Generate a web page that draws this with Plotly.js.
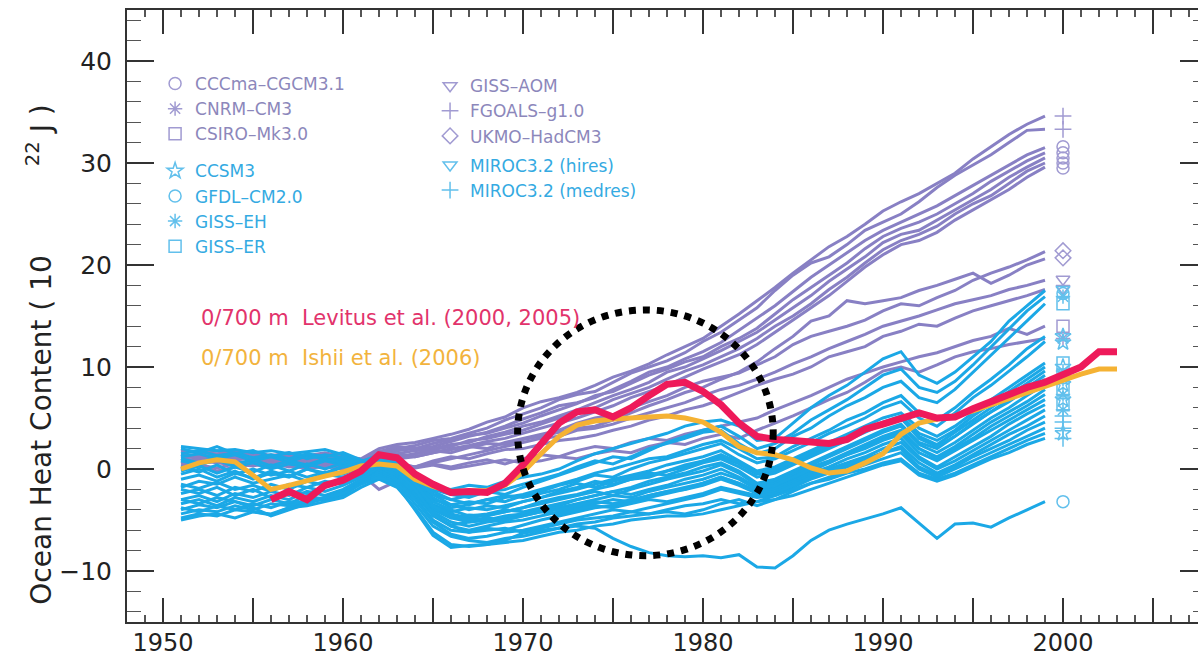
<!DOCTYPE html>
<html><head><meta charset="utf-8">
<script src="https://cdn.plot.ly/plotly-3.0.1.min.js"></script>
<style>html,body{margin:0;padding:0;overflow:hidden;background:#fff}#chart{width:1216px;height:658px}</style>
</head><body><div id="chart"></div>
<script>
// ---------- data ----------
const modelYears = [1951,1952,1953,1954,1955,1956,1957,1958,1959,1960,1961,1962,1963,1964,1965,1966,1967,1968,1969,1970,1971,1972,1973,1974,1975,1976,1977,1978,1979,1980,1981,1982,1983,1984,1985,1986,1987,1988,1989,1990,1991,1992,1993,1994,1995,1996,1997,1998,1999];

// purple group (CCCma, CNRM, CSIRO, GISS-AOM, FGOALS, UKMO)
const fgoals1 = [1.8,1.6,1.5,1.7,1.4,1.2,1.5,1.3,1.6,1.2, 1.0,2.0,2.4,2.6,3.0,3.4,3.9,4.6,5.1,6.0, 6.6,7.0,7.5,8.2,9.0,9.6,10.3,11.2,12.0,12.8, 14.0,15.2,16.5,17.8,19.2,20.5,21.8,22.8,24.0,25.3, 26.2,27.0,28.0,29.0,30.4,31.6,32.8,33.8,34.6];
const fgoals2 = [1.2,1.4,1.1,1.3,1.0,1.4,1.1,0.9,1.2,1.0, 0.6,1.6,2.0,2.3,2.8,3.0,3.5,4.0,4.8,5.4, 6.0,6.8,7.3,7.6,8.5,9.4,10.0,10.6,11.4,12.5, 13.4,14.6,15.8,17.5,19.0,20.2,20.8,22.0,23.4,24.2, 25.0,26.2,27.6,28.8,29.8,30.8,32.0,33.2,33.3];
const cccma1 = [0.8,1.0,0.7,0.9,1.1,0.6,0.8,0.5,0.9,0.7, 0.4,1.3,1.8,2.0,2.2,2.7,3.2,3.6,4.2,4.9, 5.5,6.2,6.5,7.0,7.8,8.6,9.5,10.0,10.8,11.5, 12.4,13.6,14.8,16.0,17.4,18.8,20.0,21.2,22.4,23.4, 24.2,25.0,25.8,26.8,27.8,28.8,29.8,30.8,31.5];
const cccma2 = [1.5,1.2,1.4,1.0,1.2,0.9,1.3,1.0,0.8,1.1, 0.8,1.7,2.2,2.0,2.5,2.9,3.3,3.5,4.0,4.5, 5.2,5.8,6.4,7.2,7.6,8.4,9.2,9.8,10.5,11.0, 12.0,12.8,13.8,15.2,16.6,17.8,19.0,20.2,21.6,22.8, 23.6,24.2,25.0,26.0,27.0,28.2,29.2,30.2,31.0];
const cccma3 = [0.6,0.9,1.2,0.8,0.5,0.9,0.6,0.8,0.4,0.7, 0.5,1.1,1.5,1.8,2.0,2.4,2.6,3.2,3.6,4.2, 4.6,5.2,5.8,6.5,7.2,7.8,8.5,9.5,10.0,10.8, 11.6,12.5,13.4,14.6,15.8,17.0,18.4,19.6,20.8,22.2, 23.0,23.4,24.4,25.4,26.4,27.4,28.6,29.6,30.5];
const cccma4 = [1.0,0.7,0.9,1.3,0.8,1.0,0.7,1.1,0.9,0.6, 0.2,0.9,1.2,1.5,1.9,2.2,2.8,3.0,3.4,3.8, 4.4,5.0,5.5,6.0,6.8,7.4,8.0,8.8,9.6,10.2, 11.0,11.8,12.8,14.0,15.0,16.2,17.6,18.8,20.2,21.5, 22.4,23.0,23.8,25.0,26.0,26.8,28.0,29.2,30.0];
const cccma5 = [0.3,0.5,0.8,0.5,0.7,0.4,0.6,0.3,0.5,0.4, 0.0,0.7,1.0,1.2,1.6,2.0,2.3,2.7,3.0,3.5, 4.0,4.5,5.0,5.6,6.2,7.0,7.6,8.2,9.0,9.8, 10.5,11.2,12.2,13.4,14.6,15.8,17.0,18.4,19.8,21.0, 22.0,22.4,23.2,24.4,25.4,26.4,27.4,28.6,29.6];
const ukmo1 = [1.9,1.6,1.8,1.5,1.7,1.3,1.6,1.2,1.5,1.3, 0.9,1.8,1.5,1.2,1.6,1.9,2.2,2.0,2.6,3.0, 3.4,3.8,4.5,5.0,5.3,6.0,6.6,7.2,8.0,8.6, 9.0,9.4,10.2,11.0,12.2,13.0,13.5,14.0,14.6,15.5, 16.2,16.0,16.8,17.5,18.5,19.2,19.8,20.5,21.3];
const ukmo2 = [1.0,1.3,0.9,1.2,0.8,1.1,0.9,1.2,0.7,1.0, 0.6,1.4,1.0,1.5,1.8,1.6,2.1,2.5,2.4,2.9, 3.2,3.6,4.0,4.2,4.8,5.5,6.2,6.8,7.5,8.0, 8.8,9.5,10.5,11.8,13.0,14.5,15.0,16.5,16.2,16.5, 16.8,17.5,18.0,18.6,19.2,18.2,19.0,20.0,20.6];
const gissAom1 = [0.5,0.8,0.6,0.4,0.7,0.5,0.8,0.4,0.6,0.3, -0.5,-2.0,-1.2,0.2,0.6,1.0,1.4,1.8,2.2,2.6, 3.0,3.2,3.8,4.0,4.4,5.0,5.5,6.0,6.5,7.2, 7.8,8.2,8.8,9.5,10.3,11.0,11.8,12.5,13.2,14.0, 14.5,15.0,15.6,16.2,16.6,17.0,17.6,18.0,18.5];
const gissAom2 = [0.2,0.4,0.1,0.5,0.3,0.6,0.2,0.4,0.1,0.3, 0.0,0.8,0.5,0.2,0.8,1.2,1.0,1.5,1.9,2.0, 2.4,2.8,3.0,3.3,3.8,4.2,4.8,5.2,5.8,6.2, 6.8,7.5,8.2,8.8,9.3,10.0,11.0,11.5,12.0,13.0, 13.5,14.2,14.0,14.8,15.5,16.0,16.5,17.0,17.6];
const csiro1 = [1.4,1.1,1.3,0.9,1.2,0.8,1.0,0.7,0.9,0.8, 0.3,1.0,0.6,0.2,0.5,0.2,0.6,0.9,0.5,1.0, 1.4,1.2,1.8,2.2,2.0,2.6,3.0,2.8,3.4,3.8, 4.2,4.6,5.0,5.8,6.5,7.2,8.0,8.8,9.4,10.0, 10.5,11.0,11.4,12.0,12.6,13.0,13.8,13.2,14.0];
const cnrm1 = [0.0,0.3,-0.2,0.2,0.5,0.1,0.4,0.0,0.3,0.0, -0.4,0.2,-0.3,0.1,0.4,0.0,0.3,0.6,0.9,0.6, 0.8,1.2,1.0,1.5,1.8,1.6,2.2,2.6,2.4,3.0, 3.4,3.0,3.8,4.5,5.2,6.0,6.8,7.5,8.5,9.6, 10.0,9.5,10.2,11.0,11.5,11.8,12.2,12.5,12.8];

// cyan group (CCSM3, GFDL-CM2.0, GISS-EH, GISS-ER, MIROC3.2)
const mirocHi1 = [2.2,2.0,1.8,1.9,1.6,1.8,1.5,1.7,1.9,1.4, 0.6,0.8,0.2,-1.0,-1.8,-2.0,-1.6,-1.8,-1.2,-0.8, -0.5,0.0,0.8,1.5,2.0,2.5,3.0,3.5,4.2,4.6, 4.8,4.2,2.8,3.0,4.5,6.0,7.2,8.2,9.5,10.8, 11.5,9.2,8.4,9.5,11.0,12.5,14.5,16.0,17.5];
const gissEh1 = [1.2,1.5,1.0,1.4,0.8,1.2,0.7,1.3,1.0,0.9, 0.3,0.6,0.0,-1.5,-2.5,-3.0,-2.6,-2.2,-2.5,-1.8, -1.2,-0.6,0.0,0.6,1.2,1.0,1.8,2.6,3.2,3.8, 4.2,3.2,2.0,2.5,3.5,4.8,5.8,6.8,8.0,9.2, 9.8,8.0,7.5,8.6,10.2,12.0,13.8,15.5,16.9];
const gissEr1 = [-0.5,0.0,-0.8,-0.2,-1.0,-0.4,-0.8,0.0,-0.5,0.2, 0.5,1.0,0.4,-0.8,-2.0,-2.5,-2.8,-2.2,-2.0,-1.5, -1.0,-0.5,0.2,0.8,0.5,1.2,2.0,2.5,3.0,3.6, 3.8,2.5,1.5,2.0,3.2,4.0,5.2,6.2,7.0,8.0, 8.6,7.0,6.5,7.8,9.5,11.2,12.8,14.5,16.2];
const ccsm1 = [0.8,0.4,0.9,0.2,0.6,0.0,0.5,0.2,0.8,0.4, 0.0,0.8,0.2,-1.2,-3.0,-3.5,-3.2,-3.4,-2.8,-2.5, -2.0,-1.5,-1.0,-0.4,0.0,0.5,1.0,1.2,1.8,2.4, 2.8,2.0,1.0,1.2,2.2,3.0,3.8,4.8,5.5,6.5, 7.2,5.5,4.8,6.0,7.5,8.8,10.2,11.8,13.0];
const ccsm2 = [-1.8,-1.2,-1.5,-0.8,-1.4,-1.0,-0.6,-1.2,-0.5,-0.8, -0.2,0.5,-0.2,-1.5,-2.8,-3.8,-3.5,-3.0,-3.2,-2.6, -2.2,-1.6,-1.2,-0.6,-0.8,0.0,0.6,1.0,1.5,2.0, 2.5,1.4,0.6,1.0,1.8,2.6,3.5,4.2,5.0,6.0, 6.6,5.0,4.2,5.5,7.0,8.2,9.6,11.0,12.5];
const gissEr2 = [1.5,1.8,1.3,1.6,1.1,1.4,1.0,1.5,1.2,1.6, 0.9,0.4,-0.3,-2.0,-3.5,-4.2,-3.8,-4.0,-3.6,-3.2, -2.8,-2.4,-2.0,-1.5,-1.0,-0.6,-0.2,0.4,0.8,1.2, 1.8,0.8,-0.2,0.2,1.0,1.8,2.6,3.4,4.2,5.0, 5.5,4.0,3.2,4.2,5.5,6.8,8.0,9.2,10.4];
const ccsm3 = [-3.0,-2.6,-3.2,-2.4,-2.8,-2.2,-2.6,-1.8,-2.2,-1.6, -0.8,0.2,-0.5,-2.2,-4.0,-4.8,-4.5,-4.6,-4.2,-3.8, -3.2,-2.8,-2.5,-2.0,-1.6,-1.0,-0.8,-0.2,0.2,0.8, 1.2,0.5,-0.5,-0.2,0.6,1.4,2.2,3.0,3.8,4.6, 5.2,3.5,2.8,3.8,5.2,6.4,7.6,8.8,10.0];
const gissEh2 = [0.2,-0.3,0.4,-0.5,0.0,-0.6,-0.2,-0.8,-0.3,-0.5, 0.2,1.2,0.6,-0.6,-2.2,-3.0,-3.4,-3.0,-2.6,-2.8, -2.4,-2.0,-1.4,-1.8,-1.2,-0.8,-0.4,-0.6,0.0,0.6, 1.0,0.2,-0.8,-0.4,0.4,1.2,2.0,2.8,3.6,4.4, 5.0,3.2,2.4,3.6,4.8,6.0,7.2,8.4,9.6];
const gissEr3 = [-4.0,-3.5,-3.8,-3.2,-3.6,-3.0,-3.4,-2.6,-3.0,-2.4, -1.2,0.0,-0.8,-2.5,-4.5,-5.5,-5.2,-5.0,-4.8,-4.4, -4.0,-3.6,-3.0,-2.6,-2.2,-1.8,-1.2,-0.8,-0.4,0.2, 0.6,-0.2,-1.4,-1.0,-0.2,0.6,1.4,2.2,3.0,3.8, 4.4,2.6,2.0,3.2,4.4,5.6,6.8,8.0,9.2];
const gissEh3 = [2.0,1.6,2.2,1.5,1.8,1.2,1.6,1.0,1.4,1.1, 0.7,1.4,0.5,-1.0,-2.5,-3.5,-4.0,-3.6,-3.8,-3.2, -2.8,-2.2,-1.8,-1.2,-1.5,-1.0,-0.6,-0.2,0.4,0.8, 1.4,0.6,-0.4,0.0,0.8,1.6,2.4,3.0,3.8,4.5, 5.0,3.0,2.2,3.2,4.5,5.6,6.6,7.8,8.8];
const ccsm4 = [-2.4,-2.0,-2.6,-1.8,-2.2,-1.5,-2.0,-1.2,-1.6,-1.0, -0.4,0.6,0.0,-1.8,-3.6,-4.4,-4.8,-4.5,-4.2,-3.8, -3.4,-3.0,-2.6,-2.2,-2.6,-2.0,-1.5,-1.0,-0.6,-0.2, 0.4,-0.4,-1.6,-1.2,-0.4,0.4,1.2,2.0,2.8,3.6, 4.2,2.4,1.6,2.6,3.8,5.0,6.0,7.2,8.3];
const gissEr4 = [-4.8,-4.4,-4.6,-4.0,-4.2,-4.5,-3.8,-3.2,-3.0,-2.6, -1.4,-0.2,-1.0,-2.8,-5.0,-6.0,-6.2,-5.8,-6.0,-5.5, -5.0,-4.6,-4.2,-3.8,-3.6,-3.2,-2.8,-2.4,-2.0,-1.4, -0.8,-1.4,-2.2,-1.8,-1.0,-0.2,0.6,1.4,2.2,3.0, 3.6,2.0,1.2,2.2,3.4,4.6,5.6,6.6,7.8];
const gissEh4 = [-1.0,-0.6,-1.2,-0.4,-0.9,-0.2,-0.7,0.0,-0.4,0.3, 0.6,0.9,0.2,-1.4,-3.2,-4.0,-4.6,-4.4,-4.0,-4.2, -3.8,-3.4,-3.0,-2.6,-2.2,-2.5,-2.0,-1.6,-1.0,-0.6, 0.0,-0.8,-1.8,-1.4,-0.6,0.2,0.8,1.6,2.4,3.2, 3.8,2.0,1.0,2.0,3.0,4.2,5.2,6.2,7.3];
const ccsm5 = [1.0,0.6,1.2,0.5,0.9,0.3,0.8,0.4,1.0,0.6, 0.3,0.9,0.0,-1.8,-3.8,-4.8,-5.2,-5.0,-4.6,-4.4, -4.0,-3.8,-3.4,-3.0,-2.6,-2.8,-2.2,-1.8,-1.4,-1.0, -0.4,-1.0,-2.0,-1.6,-0.8,0.0,0.6,1.4,2.0,2.8, 3.4,1.6,0.8,1.8,2.8,3.8,4.8,5.8,6.8];
const gissEr5 = [-3.4,-3.0,-3.6,-2.8,-3.2,-2.6,-3.0,-2.2,-2.6,-2.0, -1.0,0.2,-0.6,-2.4,-4.6,-5.6,-6.0,-5.6,-5.2,-5.0, -4.6,-4.2,-3.8,-3.4,-3.0,-3.2,-2.6,-2.2,-1.8,-1.4, -0.8,-1.4,-2.2,-2.0,-1.2,-0.4,0.2,1.0,1.6,2.4, 3.0,1.2,0.2,1.2,2.2,3.2,4.4,5.4,6.3];
const gissEh5 = [-1.5,-1.9,-1.3,-2.0,-1.6,-2.2,-1.5,-1.8,-1.2,-1.5, -0.6,0.4,-0.4,-2.2,-4.2,-5.2,-5.6,-5.2,-5.0,-4.6, -4.2,-4.0,-3.6,-3.2,-3.4,-3.0,-2.6,-2.2,-2.0,-1.6, -1.0,-1.6,-2.4,-2.2,-1.4,-0.6,0.0,0.6,1.2,2.0, 2.6,1.0,0.0,0.8,1.8,2.8,3.8,4.8,5.8];
const mirocMed1 = [-4.4,-4.0,-4.2,-3.6,-4.0,-3.4,-3.6,-3.0,-2.8,-2.2, -1.2,-0.4,-1.2,-3.0,-5.2,-6.4,-6.8,-6.6,-6.2,-6.0, -5.6,-5.2,-4.8,-4.4,-4.0,-4.2,-3.8,-3.4,-3.0,-2.6, -2.0,-2.4,-2.8,-2.6,-1.8,-1.0,-0.4,0.2,0.8,1.6, 2.2,0.6,-0.4,0.4,1.4,2.4,3.4,4.2,5.2];
const mirocMed2 = [-0.2,0.3,-0.4,0.2,-0.3,0.4,-0.2,0.5,0.0,0.6, 0.8,1.0,0.3,-1.5,-3.6,-4.6,-5.0,-4.8,-5.0,-4.6, -4.2,-4.4,-4.0,-3.6,-3.8,-3.4,-3.0,-3.2,-2.8,-2.4, -1.8,-2.2,-2.6,-2.4,-1.6,-0.8,-0.2,0.4,1.0,1.6, 2.0,0.2,-0.6,0.2,1.2,2.0,2.8,3.8,4.6];
const mirocMed3 = [-3.8,-4.2,-3.6,-4.0,-3.4,-3.8,-3.2,-3.4,-2.8,-2.4, -1.4,-0.6,-1.4,-3.4,-5.6,-6.6,-7.0,-7.2,-6.8,-6.6, -6.2,-5.8,-5.4,-5.2,-4.8,-4.6,-4.4,-4.2,-4.4,-4.0, -3.4,-3.0,-3.6,-3.0,-2.2,-1.4,-0.8,-0.2,0.4,1.0, 1.6,0.0,-0.8,0.0,0.8,1.6,2.4,3.2,4.0];
const ccsm6 = [-2.0,-2.4,-1.8,-2.6,-2.0,-2.8,-2.2,-2.4,-1.8,-1.2, -0.4,0.4,-0.2,-2.0,-4.4,-5.6,-6.2,-6.0,-5.8,-6.2, -5.8,-5.4,-5.0,-4.8,-4.6,-4.2,-4.4,-4.0,-3.6,-3.4, -3.0,-3.4,-3.2,-2.6,-2.0,-1.4,-1.0,-0.4,0.0,0.6, 1.0,-0.4,-1.0,-0.4,0.4,1.2,2.0,2.8,3.5];
const ccsm7 = [-5.0,-4.6,-4.4,-4.8,-4.2,-4.4,-3.8,-3.6,-3.2,-2.8, -1.8,-1.0,-1.8,-3.8,-6.2,-7.4,-7.6,-7.4,-7.2,-7.0, -6.6,-6.2,-6.0,-5.6,-5.4,-5.0,-4.8,-4.6,-4.6,-4.4, -4.0,-3.6,-3.2,-3.0,-2.6,-2.0,-1.4,-0.8,-0.2,0.4, 0.8,-0.6,-1.2,-0.6,0.2,1.0,1.6,2.4,3.0];
const gfdl1 = [-3.0,-3.4,-2.8,-3.2,-3.8,-4.6,-4.0,-3.4,-2.8,-2.4, -1.5,-0.8,-1.6,-4.0,-6.5,-7.7,-7.5,-7.4,-7.0,-6.3, -6.0,-5.8,-5.6,-5.8,-6.8,-7.6,-8.2,-8.5,-8.6,-8.5, -8.7,-8.4,-9.6,-9.7,-8.5,-7.0,-6.0,-5.4,-4.9,-4.4, -3.8,-5.3,-6.8,-5.4,-5.3,-5.7,-4.8,-4.0,-3.2];

const purpleRuns = [fgoals1, fgoals2, cccma1, cccma2, cccma3, cccma4, cccma5, ukmo1, ukmo2, gissAom1, gissAom2, csiro1, cnrm1];
const cyanRuns = [mirocHi1, gissEh1, gissEr1, ccsm1, ccsm2, gissEr2, ccsm3, gissEh2, gissEr3, gissEh3, ccsm4, gissEr4, gissEh4, ccsm5, gissEr5, gissEh5, mirocMed1, mirocMed2, mirocMed3, ccsm6, ccsm7, gfdl1];

// observations (0/700 m)
const levitusYears = [1956,1957,1958,1959,1960,1961,1962,1963,1964,1965,1966,1967,1968,1969,1970,1971,1972,1973,1974,1975,1976,1977,1978,1979,1980,1981,1982,1983,1984,1985,1986,1987,1988,1989,1990,1991,1992,1993,1994,1995,1996,1997,1998,1999,2000,2001,2002,2003];
const levitusOHC = [-3.0,-2.2,-3.0,-1.6,-1.1,-0.2,1.4,1.1,-0.5,-1.5,-2.3,-2.2,-2.3,-1.4,0.4,2.5,4.5,5.6,5.8,5.1,6.0,7.2,8.3,8.5,7.6,6.3,4.5,3.2,2.9,2.8,2.6,2.5,2.9,3.9,4.4,4.9,5.5,5.0,5.1,5.9,6.6,7.4,8.0,8.5,9.2,10.0,11.5,11.5];
const ishiiYears = [1951,1952,1953,1954,1955,1956,1957,1958,1959,1960,1961,1962,1963,1964,1965,1966,1967,1968,1969,1970,1971,1972,1973,1974,1975,1976,1977,1978,1979,1980,1981,1982,1983,1984,1985,1986,1987,1988,1989,1990,1991,1992,1993,1994,1995,1996,1997,1998,1999,2000,2001,2002,2003];
const ishiiOHC = [0.0,0.6,0.9,0.7,-0.6,-2.0,-1.6,-1.1,-0.7,-0.3, 0.3,0.5,0.3,-1.0,-1.7,-2.2,-2.2,-2.1,-1.6,-0.3, 1.5,3.2,4.3,4.7,4.9,5.0,5.1,5.2,5.0,4.6, 3.6,2.2,1.6,1.4,0.9,0.1,-0.4,-0.2,0.6,1.5, 3.4,4.5,4.9,5.2,5.7,6.3,7.0,7.6,8.1,8.7, 9.3,9.8,9.8];

// end-of-run symbols at year 2000
const markerYear = 2000;
const cccmaEnd = [31.6, 31.0, 30.5, 30.0, 29.5];
const cnrmEnd = [12.8];
const csiroEnd = [14.0];
const ccsmEnd = [13.0, 12.4, 10.0, 8.3, 6.8, 3.5];
const gfdlEnd = [-3.2, 17.2];
const gissEhEnd = [16.9, 9.6, 8.8, 7.3, 5.8];
const gissErEnd = [16.2, 10.4, 9.2, 7.8, 6.3];
const gissAomEnd = [18.6, 17.7];
const fgoalsEnd = [34.6, 33.3];
const ukmoEnd = [21.4, 20.7];
const mirocHiEnd = [17.6];
const mirocMedEnd = [5.2, 4.6, 4.0, 3.0];

// axis ticks
const xTickVals = [1950,1955,1960,1965,1970,1975,1980,1985,1990,1995,2000,2005];
const xTickText = ['1950','','1960','','1970','','1980','','1990','','2000',''];

// ---------- styles ----------
const FONT = '"DejaVu Sans", sans-serif';
const PURPLE = '#8880c4', CYAN = '#1ba8e6';
const PURPLE_M = '#a19bd2', CYAN_M = '#62c0ec';
const PURPLE_T = '#8c87bb', CYAN_T = '#34aae2';

const traces = [];
purpleRuns.forEach(r => traces.push({type:'scatter', mode:'lines', x:modelYears, y:r,
  line:{color:PURPLE, width:3}, showlegend:false, hoverinfo:'skip'}));
cyanRuns.forEach(r => traces.push({type:'scatter', mode:'lines', x:modelYears, y:r,
  line:{color:CYAN, width:3}, showlegend:false, hoverinfo:'skip'}));

function mk(name, vals, symbol, grp, legendId){
  const col = grp === 'purple' ? PURPLE_M : CYAN_M;
  const tcol = grp === 'purple' ? PURPLE_T : CYAN_T;
  return {type:'scatter', mode:'markers', x:vals.map(()=>markerYear), y:vals,
    name:'<span style="color:'+tcol+'">'+name+'</span>',
    legend:legendId, legendgroup:grp+legendId,
    marker:{symbol:symbol, size:12, color:col, line:{color:col, width:1.5}},
    cliponaxis:false, hoverinfo:'skip'};
}
// legend column 1
traces.push(mk('CCCma–CGCM3.1', cccmaEnd, 'circle-open', 'purple', 'legend'));
traces.push(mk('CNRM–CM3', cnrmEnd, 'asterisk-open', 'purple', 'legend'));
traces.push(mk('CSIRO–Mk3.0', csiroEnd, 'square-open', 'purple', 'legend'));
traces.push(mk('CCSM3', ccsmEnd, 'star-open', 'cyan', 'legend'));
traces.push(mk('GFDL–CM2.0', gfdlEnd, 'circle-open', 'cyan', 'legend'));
traces.push(mk('GISS–EH', gissEhEnd, 'asterisk-open', 'cyan', 'legend'));
traces.push(mk('GISS–ER', gissErEnd, 'square-open', 'cyan', 'legend'));
// legend column 2
traces.push(mk('GISS–AOM', gissAomEnd, 'triangle-down-open', 'purple', 'legend2'));
traces.push(mk('FGOALS–g1.0', fgoalsEnd, 'cross-thin-open', 'purple', 'legend2'));
traces.push(mk('UKMO–HadCM3', ukmoEnd, 'diamond-open', 'purple', 'legend2'));
traces.push(mk('MIROC3.2 (hires)', mirocHiEnd, 'triangle-down-open', 'cyan', 'legend2'));
traces.push(mk('MIROC3.2 (medres)', mirocMedEnd, 'cross-thin-open', 'cyan', 'legend2'));

traces.push({type:'scatter', mode:'lines', x:ishiiYears, y:ishiiOHC, name:'Ishii',
  line:{color:'#f5b233', width:5}, showlegend:false, hoverinfo:'skip'});
traces.push({type:'scatter', mode:'lines', x:levitusYears, y:levitusOHC, name:'Levitus',
  line:{color:'#ee1a5a', width:7}, showlegend:false, hoverinfo:'skip'});

const NB = '\u00a0';
const axisCol = '#333';
const yTitle = 'Ocean Heat Content' + NB + '(' + NB + '10' + NB.repeat(10) + '<sup>22</sup>' + NB + 'J' + NB + ')';
const layout = {
  width:1216, height:658,
  margin:{l:127, r:9, t:10, b:36},
  paper_bgcolor:'#fff', plot_bgcolor:'#fff',
  font:{family:FONT, color:'#222'},
  xaxis:{range:[1948,2008], tickmode:'array', tickvals:xTickVals, ticktext:xTickText,
    ticks:'inside', ticklen:24, tickwidth:1.6, tickcolor:axisCol,
    showline:true, linecolor:axisCol, linewidth:2, mirror:'ticks',
    showgrid:false, zeroline:false, tickfont:{size:24, color:'#222'}, ticklabelstandoff:-2,
    minor:{tickmode:'linear', tick0:1948, dtick:1, ticks:'inside', ticklen:7, tickwidth:1.2, tickcolor:'#555', showgrid:false}},
  yaxis:{range:[-15,45], tickmode:'linear', tick0:0, dtick:10,
    ticks:'inside', ticklen:27, tickwidth:1.6, tickcolor:axisCol,
    showline:true, linecolor:axisCol, linewidth:2, mirror:'ticks',
    showgrid:false, zeroline:false, tickfont:{size:25, color:'#222'}, ticklabelstandoff:8,
    minor:{tickmode:'linear', tick0:0, dtick:2, ticks:'inside', ticklen:14, tickwidth:1.2, tickcolor:'#555', showgrid:false}},
  legend:{x:0.026, y:0.9085, xanchor:'left', yanchor:'top', bgcolor:'rgba(0,0,0,0)',
    font:{size:17, family:FONT}, traceorder:'grouped', tracegroupgap:12, itemsizing:'trace'},
  legend2:{x:0.2806, y:0.905, xanchor:'left', yanchor:'top', bgcolor:'rgba(0,0,0,0)',
    font:{size:17, family:FONT}, traceorder:'grouped', tracegroupgap:4, itemsizing:'trace'},
  annotations:[
    {x:-0.081, y:0.436, xref:'paper', yref:'paper', xanchor:'center', yanchor:'middle', showarrow:false,
     textangle:-90, text:yTitle, font:{size:28, color:'#222'}},
    {x:1952.0, y:14.8, xref:'x', yref:'y', xanchor:'left', yanchor:'middle', showarrow:false,
     text:'0/700 m'+NB+NB+'Levitus et al. (2000, 2005)', font:{size:21, color:'#e2336b'}},
    {x:1952.0, y:10.9, xref:'x', yref:'y', xanchor:'left', yanchor:'middle', showarrow:false,
     text:'0/700 m'+NB+NB+'Ishii et al. (2006)', font:{size:21, color:'#f2b33d'}}
  ],
  shapes:[
    {type:'circle', xref:'x', yref:'y', x0:1969.7, x1:1983.9, y0:-8.5, y1:15.6,
     line:{color:'#000', width:7, dash:'dot'}}
  ]
};

Plotly.newPlot('chart', traces, layout, {displayModeBar:false, staticPlot:true});
</script>
</body></html>
